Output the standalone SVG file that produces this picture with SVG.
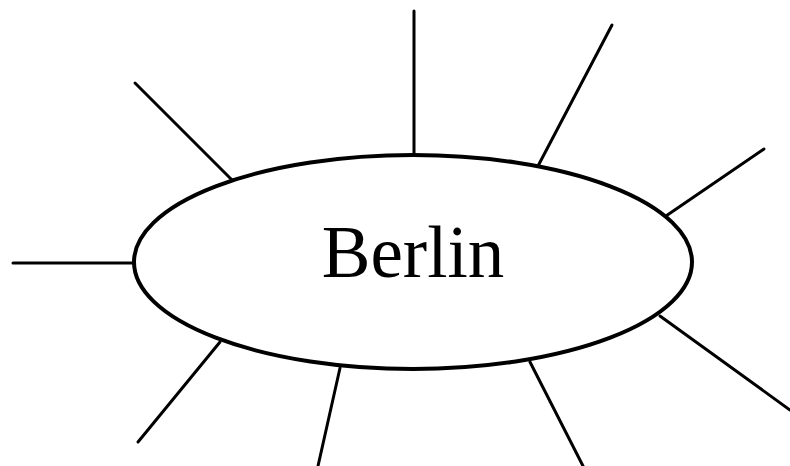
<svg xmlns="http://www.w3.org/2000/svg" width="790" height="466" viewBox="0 0 790 466">
<style>
.ray{stroke:#000;stroke-width:3;stroke-linecap:round;fill:none}
.node{fill:#fff;stroke:#000;stroke-width:4}
.label{font-family:"Liberation Serif","Times New Roman",serif;font-size:73px;fill:#000;text-anchor:middle}
</style>
<rect width="790" height="466" fill="#fff"/>
<g id="connectors">
<line class="ray" x1="414" y1="11" x2="414" y2="157"/>
<line class="ray" x1="612" y1="25" x2="538" y2="166"/>
<line class="ray" x1="764" y1="149" x2="663" y2="218"/>
<line class="ray" x1="660" y1="316" x2="790" y2="410"/>
<line class="ray" x1="530" y1="362" x2="583" y2="466"/>
<line class="ray" x1="340" y1="368" x2="318" y2="466"/>
<line class="ray" x1="220" y1="342" x2="138" y2="442"/>
<line class="ray" x1="13" y1="263" x2="133" y2="263"/>
<line class="ray" x1="135" y1="83" x2="232" y2="180"/>
</g>
<g id="berlin">
<ellipse class="node" cx="413" cy="262" rx="279" ry="107"/>
<text class="label" x="413" y="277">Berlin</text>
</g>
</svg>
